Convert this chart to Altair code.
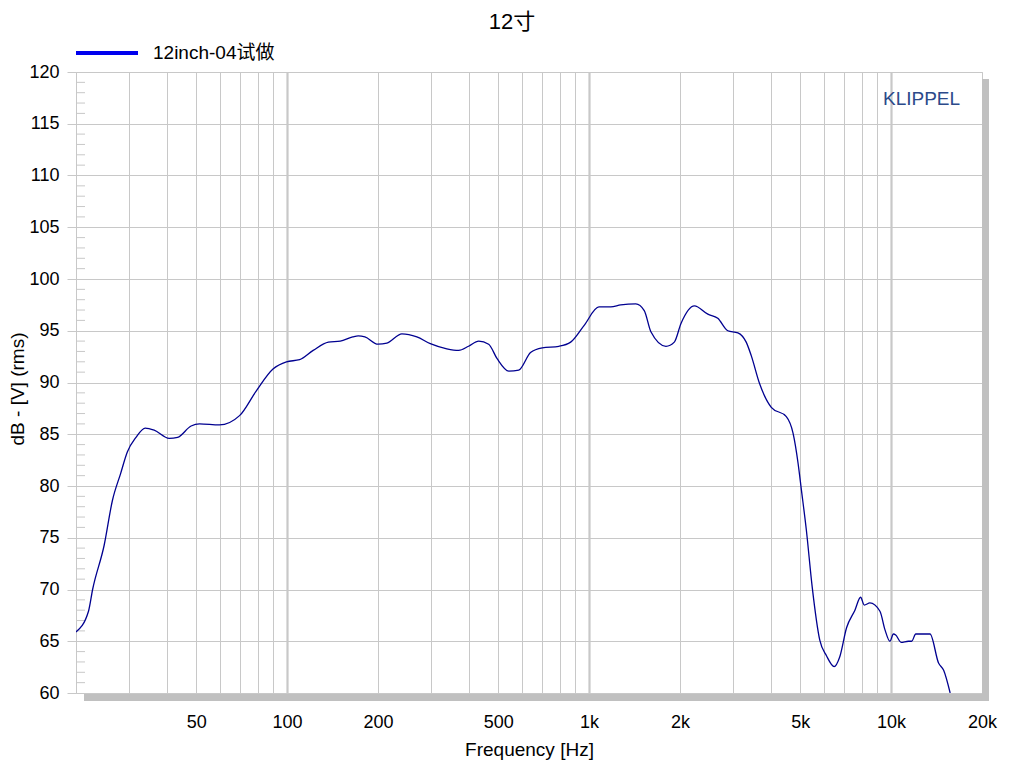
import altair as alt
import pandas as pd

# ---- data ----
freq = [20, 22.0, 22.7, 24.8, 26.4, 28.1, 29.6, 31.6, 33.9, 36.3, 40.7, 43.4, 48.1, 51.3, 59.7,
        69.6, 79.1, 89.8, 99.5, 110, 122, 137, 150, 165, 172, 181, 200, 214, 240, 269, 298, 338,
        370, 399, 431, 465, 496, 542, 585, 640, 700, 794, 869, 962, 1078, 1180, 1273, 1428, 1523,
        1602, 1797, 1915, 2015, 2232, 2473, 2668, 2879, 3110, 3313, 3443, 3668, 4011, 4499, 4735,
        4920, 5048, 5243, 5477, 5806, 6110, 6479, 6763, 7121, 7590, 7925, 8150, 8509, 9186, 9547,
        9912, 10180, 10360, 10790, 11410, 11700, 12070, 13460, 14360, 14930, 15690]
spl = [65.9, 67.9, 70.0, 74.3, 78.6, 81.2, 83.3, 84.7, 85.6, 85.4, 84.6, 84.7, 85.8, 86.0, 85.9,
       86.8, 89.2, 91.3, 92.0, 92.2, 93.1, 93.9, 94.0, 94.4, 94.5, 94.4, 93.7, 93.8, 94.7, 94.4,
       93.75, 93.25, 93.1, 93.5, 94.0, 93.7, 92.3, 91.1, 91.2, 92.9, 93.35, 93.5, 93.9, 95.5, 97.3,
       97.3, 97.5, 97.6, 96.95, 94.9, 93.5, 93.9, 95.7, 97.4, 96.6, 96.2, 95.0, 94.8, 93.9, 92.6,
       89.9, 87.6, 86.7, 85.1, 82.2, 79.6, 75.7, 70.3, 65.1, 63.6, 62.55, 63.5, 66.3, 68.0, 69.25,
       68.5, 68.7, 67.9, 66.1, 65.0, 65.7, 65.6, 64.9, 65.0, 65.0, 65.7, 65.7, 62.9, 62.2, 60.0]
series_name = "12inch-04试做"
chart_title = "12寸"
brand = "KLIPPEL"

x_grid = [20, 30, 40, 50, 60, 70, 80, 90,
          100, 200, 300, 400, 500, 600, 700, 800, 900,
          1000, 2000, 3000, 4000, 5000, 6000, 7000, 8000, 9000,
          10000, 20000]
x_labels = [50, 100, 200, 500, 1000, 2000, 5000, 10000, 20000]
y_ticks = list(range(60, 121, 5))
y_minor = [v for v in range(61, 120) if v % 5]

W, H = 906, 621
FONT = "Liberation Sans, Arial, Noto Sans CJK SC"
GRID = "#c8c8c8"

df = pd.DataFrame({"f": freq, "db": spl, "series": series_name})
minor_df = pd.DataFrame({"v": y_minor})

lab_list = "[" + ",".join(str(v) for v in x_labels) + "]"
x_enc = alt.X(
    "f:Q",
    scale=alt.Scale(type="log", domain=[20, 20000], nice=False),
    axis=alt.Axis(
        values=x_grid,
        title="Frequency [Hz]",
        labelExpr=f"indexof({lab_list}, datum.value) >= 0 ? (datum.value >= 1000 ? (datum.value/1000) + 'k' : '' + datum.value) : ''",
        grid=True,
        gridColor=GRID,
        gridWidth={"condition": {"test": "datum.value == 100 || datum.value == 1000 || datum.value == 10000", "value": 2.2}, "value": 1},
        ticks=False,
        domain=False,
        labelBaseline="alphabetic",
        labelPadding=34,
        labelFontSize=18,
        labelFont=FONT,
        labelColor="#000",
        labelFlush=False,
        labelOverlap=False,
        titleFont=FONT,
        titleFontSize=19,
        titleFontWeight="normal",
        titleColor="#000",
        titleBaseline="alphabetic",
        titleY=62,
    ),
)
y_enc = alt.Y(
    "db:Q",
    scale=alt.Scale(domain=[60, 120], nice=False, zero=False),
    axis=alt.Axis(
        values=y_ticks,
        title="dB - [V] (rms)",
        grid=True,
        gridColor=GRID,
        tickSize=9,
        tickColor=GRID,
        domain=False,
        labelPadding=8,
        labelFontSize=18,
        labelFont=FONT,
        labelColor="#000",
        labelFlush=False,
        titleFont=FONT,
        titleFontSize=19,
        titleFontWeight="normal",
        titleColor="#000",
        titleX=-59,
        titleY=H / 2 + 6,
        titleAngle=-90,
        titleBaseline="middle",
    ),
)

line = alt.Chart(df).mark_line(
    color="#000090", strokeWidth=1.3, clip=True, interpolate="monotone"
).encode(x=x_enc, y=y_enc)

minor = alt.Chart(minor_df).mark_rule(color=GRID, strokeWidth=1).encode(
    y=alt.Y("v:Q"), x=alt.value(0), x2=alt.value(9)
)

one = alt.Data(values=[{"name": series_name, "title": chart_title, "brand": brand}])

shadow_r = alt.Chart(one).mark_rect(color="#c0c0c0").encode(
    x=alt.value(W), x2=alt.value(W + 7), y=alt.value(7), y2=alt.value(H + 8)
)
shadow_b = alt.Chart(one).mark_rect(color="#c0c0c0").encode(
    x=alt.value(8), x2=alt.value(W + 7), y=alt.value(H + 1), y2=alt.value(H + 8)
)

leg_line = alt.Chart(one).mark_rule(color="#0000ee", strokeWidth=4).encode(
    x=alt.value(0), x2=alt.value(62), y=alt.value(-19)
)
leg_text = alt.Chart(one).mark_text(
    align="left", baseline="alphabetic", font=FONT, fontSize=19, color="#000"
).encode(x=alt.value(77), y=alt.value(-13), text="name:N")

brand_text = alt.Chart(one).mark_text(
    align="left", baseline="alphabetic", font=FONT, fontSize=19, color="#2c4a8a"
).encode(x=alt.value(807), y=alt.value(33), text="brand:N")

title_text = alt.Chart(one).mark_text(
    align="center", baseline="alphabetic", font=FONT, fontSize=22, color="#000"
).encode(x=alt.value(436), y=alt.value(-43), text="title:N")

chart = alt.layer(
    minor, line, shadow_r, shadow_b, leg_line, leg_text, brand_text, title_text
).properties(
    width=W,
    height=H,
    autosize=alt.AutoSizeParams(type="none"),
    padding={"left": 68, "top": 64, "right": 30, "bottom": 70},
    background="white",
).configure_view(stroke=GRID, strokeWidth=1)

chart.save("out.html", embed_options={"renderer": "svg", "actions": False})
